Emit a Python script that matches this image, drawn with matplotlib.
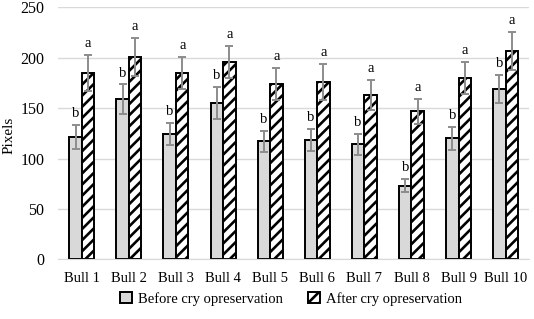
import matplotlib.pyplot as plt
import numpy as np

plt.rcParams['font.family'] = ['Liberation Serif', 'DejaVu Serif']
plt.rcParams['hatch.linewidth'] = 1.9

bulls = ['Bull 1', 'Bull 2', 'Bull 3', 'Bull 4', 'Bull 5',
         'Bull 6', 'Bull 7', 'Bull 8', 'Bull 9', 'Bull 10']
before = [121, 159, 124, 155, 117, 118, 114, 73, 120, 169]
before_err = [12, 14.5, 11, 16, 10.5, 11, 10, 6.5, 11.5, 14]
after = [185, 201, 185, 196, 174, 176, 163, 147, 180, 207]
after_err = [18, 19, 16, 16, 15.5, 17.5, 15, 12.5, 16, 19]
before_letters = ['b'] * 10
after_letters = ['a'] * 10

fig = plt.figure(figsize=(5.34, 3.19), dpi=100)
ax = fig.add_axes([0.109, 0.187, 0.882, 0.79])

x = np.arange(len(bulls))
w = 0.265
ekw = dict(ecolor='#8c8c8c', elinewidth=1.4, capsize=3, capthick=1.4)

b1 = ax.bar(x - w / 2, before, w, yerr=before_err, color='#d9d9d9',
            edgecolor='black', linewidth=1.4, error_kw=ekw,
            label='Before cry opreservation', zorder=2)
b2 = ax.bar(x + w / 2, after, w, yerr=after_err, color='white',
            edgecolor='black', linewidth=1.4, hatch='///', error_kw=ekw,
            label='After cry opreservation', zorder=2)

for i in range(len(bulls)):
    ax.annotate(before_letters[i], (x[i] - w / 2, before[i] + before_err[i]),
                xytext=(0, 3.5), textcoords='offset points',
                ha='center', va='bottom', fontsize=10.5)
    ax.annotate(after_letters[i], (x[i] + w / 2, after[i] + after_err[i]),
                xytext=(0, 3.5), textcoords='offset points',
                ha='center', va='bottom', fontsize=10.5)

ax.set_ylim(0, 250)
ax.set_xlim(-0.5, len(bulls) - 0.5)
ax.set_yticks(range(0, 251, 50))
ax.set_xticks(x)
ax.set_xticklabels(bulls, fontsize=10.5)
ax.tick_params(axis='y', labelsize=11.5, length=0, pad=10)
ax.tick_params(axis='x', length=0, pad=9)
ax.grid(axis='y', color='#d9d9d9', linewidth=1, zorder=0)
ax.set_axisbelow(True)
for s in ['top', 'right', 'left']:
    ax.spines[s].set_visible(False)
ax.spines['bottom'].set_color('#d9d9d9')
fig.text(0.017, 0.575, 'Pixels', rotation=90, ha='center', va='center',
         fontsize=11)

fig.legend(handles=[b1, b2], loc='lower center', ncol=2, frameon=False,
           fontsize=10.5, bbox_to_anchor=(0.545, 0.0), handlelength=0.8,
           handleheight=0.8, columnspacing=1.75, handletextpad=0.4)

plt.savefig('out.png', dpi=100)
